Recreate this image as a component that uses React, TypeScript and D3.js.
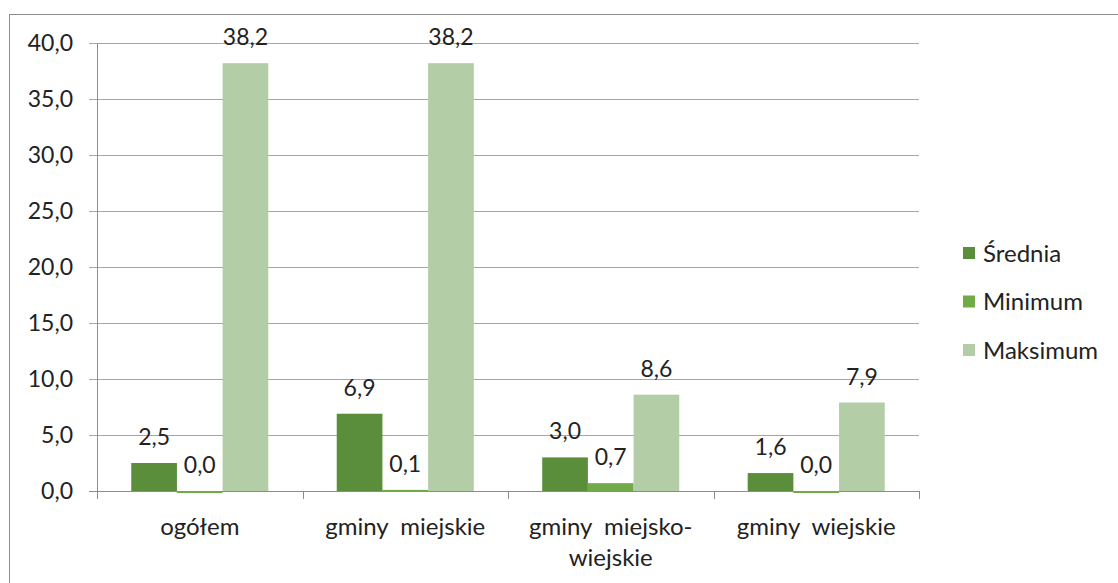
import React from "react";
import * as d3 from "d3";

const categories = ["ogółem", "gminy  miejskie", "gminy  miejsko-\nwiejskie", "gminy  wiejskie"];
const seriesNames = ["Średnia", "Minimum", "Maksimum"];
const srednia = [2.5, 6.9, 3.0, 1.6];
const minimum = [0.0, 0.1, 0.7, 0.0];
const maksimum = [38.2, 38.2, 8.6, 7.9];
const yTicks = [0, 5, 10, 15, 20, 25, 30, 35, 40];
const colors = ["#5b8e3b", "#70ab48", "#b3cea6"];

const W = 1118, H = 583;
const left = 97, right = 919, top = 43, bottom = 491;
const FONT = "Lato, 'Open Sans', sans-serif";
const TXT = "#222";

export default function App() {
  const series = [srednia, minimum, maksimum];
  const x0 = d3.scaleBand().domain(categories).range([left, right]).paddingInner(0.333).paddingOuter(0.1667);
  const x1 = d3.scaleBand().domain(seriesNames).range([0, x0.bandwidth()]);
  const y = d3.scaleLinear().domain([0, 40]).range([bottom, top]);
  const fmt = (v: number) => v.toFixed(1).replace(".", ",");
  const step = (right - left) / categories.length;

  return (
    <svg width={W} height={H} style={{ position: "absolute", left: 0, top: 0 }} fontFamily={FONT}>
      <rect x={0} y={0} width={W} height={H} fill="#fff" />
      <rect x={9.5} y={14.5} width={W + 20} height={H + 20} fill="none" stroke="#8c8c8c" />
      {yTicks.map((t) => (
        <g key={t}>
          <line x1={89} x2={right} y1={Math.round(y(t)) + 0.5} y2={Math.round(y(t)) + 0.5} stroke={t === 0 ? "#8c8c8c" : "#a6a6a6"} />
          <text x={73} y={y(t)} dy="0.36em" textAnchor="end" fontSize={23} fill={TXT}>{fmt(t)}</text>
        </g>
      ))}
      <line x1={left + 0.5} x2={left + 0.5} y1={top} y2={bottom + 8} stroke="#8c8c8c" />
      {categories.map((c, i) => (
        <line key={c} x1={Math.round(left + step * (i + 1)) + 0.5} x2={Math.round(left + step * (i + 1)) + 0.5} y1={bottom} y2={bottom + 8} stroke="#8c8c8c" />
      ))}
      {categories.map((c, i) => (
        <g key={c}>
          {series.map((s, j) => {
            const bx = (x0(c) as number) + (x1(seriesNames[j]) as number);
            const bw = x1.bandwidth();
            const yt = y(s[i]);
            return (
              <g key={j}>
                <rect x={bx} y={yt} width={bw} height={Math.max(bottom - yt, 2)} fill={colors[j]} />
                <text x={bx + bw / 2} y={yt - 18} textAnchor="middle" fontSize={23} fill={TXT}>{fmt(s[i])}</text>
              </g>
            );
          })}
          {c.split("\n").map((line, k) => (
            <text key={k} x={(x0(c) as number) + x0.bandwidth() / 2} y={535 + k * 31} textAnchor="middle" fontSize={24} fill={TXT} style={{ whiteSpace: "pre" }}>{line}</text>
          ))}
        </g>
      ))}
      {seriesNames.map((n, j) => (
        <g key={n} transform={`translate(963, ${253 + j * 48.5})`}>
          <rect x={0} y={-6} width={12} height={12} fill={colors[j]} />
          <text x={20} y={0} dy="0.36em" fontSize={24} fill={TXT}>{n}</text>
        </g>
      ))}
    </svg>
  );
}
